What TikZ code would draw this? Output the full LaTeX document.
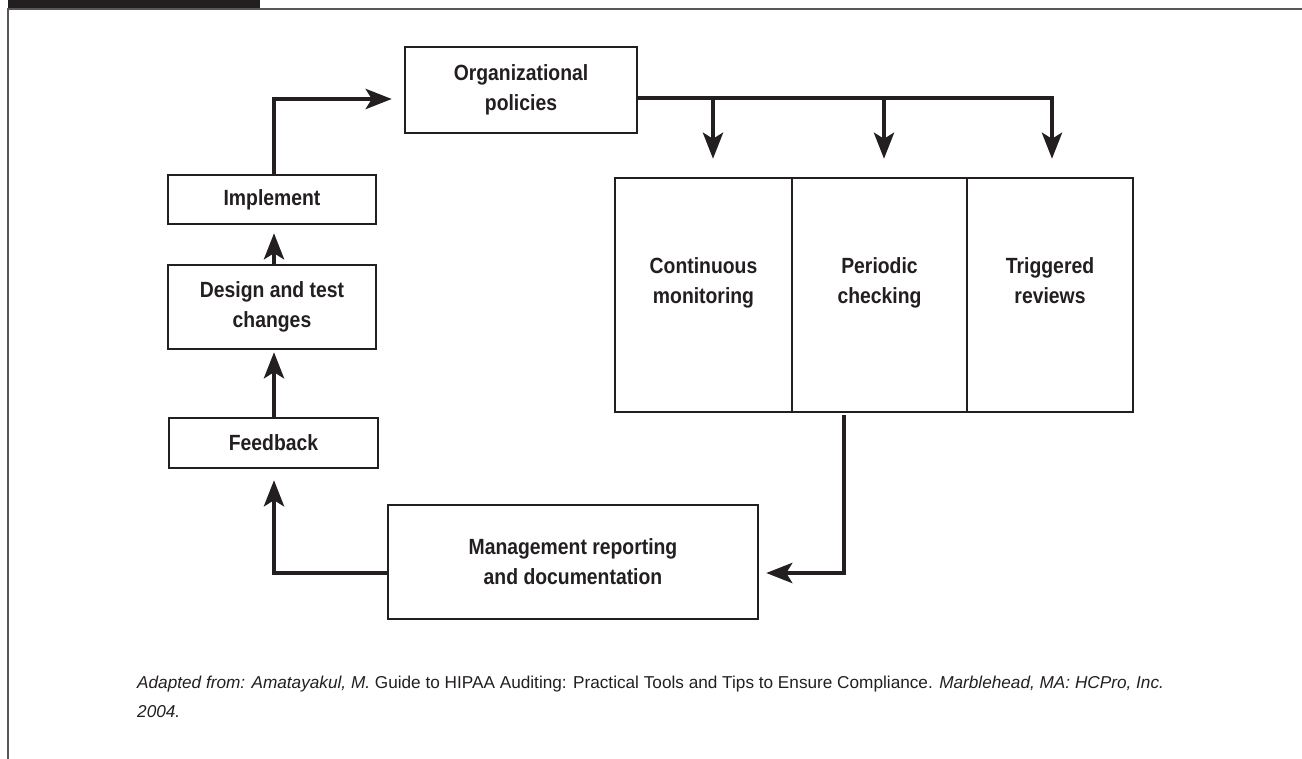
\documentclass[tikz,border=0pt]{standalone}
\usepackage{fontspec}
\setmainfont{Liberation Sans}
\newfontfamily\boxfont[FakeStretch=0.88]{Liberation Sans}
\usetikzlibrary{arrows.meta}
\definecolor{ink}{HTML}{231F20}
\tikzset{
  box/.style={draw=ink, line width=2.4pt, fill=white, inner sep=0pt, align=center,
    font=\boxfont\bfseries\fontsize{22}{30}\selectfont, text=ink},
  boxtext/.style={align=center, inner sep=0pt,
    font=\boxfont\bfseries\fontsize{22}{30}\selectfont, text=ink},
  flow/.style={draw=ink, line width=4.6pt, -{Stealth[length=26pt,width=20pt,inset=6pt]}},
  captext/.style={anchor=base west, inner sep=0pt, text=ink, font=\fontsize{17.2}{30}\selectfont}
}
\begin{document}
\begin{tikzpicture}[x=1pt,y=-1pt]
\useasboundingbox (0,0) rectangle (1302,759);
% frame
\fill[ink] (8,0) rectangle (260,8);
\draw[ink!75, line width=1.5pt] (1302,9) -- (8,9) -- (8,759);
% nodes
\node[box, minimum width=232pt, minimum height=86pt] (org) at (521,90) {Organizational\\policies};
\node[box, minimum width=208pt, minimum height=49pt] (impl) at (272,199.5) {Implement};
\node[box, minimum width=208pt, minimum height=84pt] (design) at (272,307) {Design and test\\changes};
\node[box, minimum width=209pt, minimum height=50pt] (feed) at (273.5,443) {Feedback};
\node[box, minimum width=370pt, minimum height=114pt] (mgmt) at (573,562) {Management reporting\\and documentation};
\node[box, minimum width=177pt, minimum height=234pt,
  label={[boxtext, yshift=12pt]center:Continuous\\monitoring}] (cont) at (703.5,295) {};
\node[box, minimum width=175pt, minimum height=234pt,
  label={[boxtext, yshift=12pt]center:Periodic\\checking}] (peri) at (879.5,295) {};
\node[box, minimum width=166pt, minimum height=234pt,
  label={[boxtext, yshift=12pt]center:Triggered\\reviews\vphantom{g}}] (trig) at (1050,295) {};
% connectors
\coordinate (b1) at (713,98);
\coordinate (b2) at (884,98);
\coordinate (pstart) at (844,415);
\draw[flow, shorten >=12pt] ([xshift=2pt]impl.north) |- ([yshift=-9pt]org.west);
\draw[flow, shorten >=8pt] ([xshift=2pt]design.north) -- ([xshift=2pt]impl.south);
\draw[flow, shorten >=2pt] ([xshift=0.5pt]feed.north) -- ([xshift=2pt]design.south);
\draw[flow, shorten >=11pt] ([yshift=-11pt]mgmt.west) -| ([xshift=0.5pt]feed.south);
\draw[flow, shorten >=18pt] ([yshift=-8pt]org.east) -| ([xshift=2pt]trig.north);
\draw[flow, shorten >=18pt] (b1) -- (b1 |- cont.north);
\draw[flow, shorten >=18pt] (b2) -- (b2 |- peri.north);
\draw[flow, shorten >=7pt] (pstart) |- ([yshift=-11pt]mgmt.east);
% caption
\node[captext] (cap1) at (137,688) {\itshape Adapted from: Amatayakul, M.\upshape\ Guide to HIPAA Auditing: Practical Tools and Tips to Ensure Compliance. \itshape Marblehead, MA: HCPro, Inc.};
\node[captext] (cap2) at (137,717) {\itshape 2004.};
\end{tikzpicture}
\end{document}
